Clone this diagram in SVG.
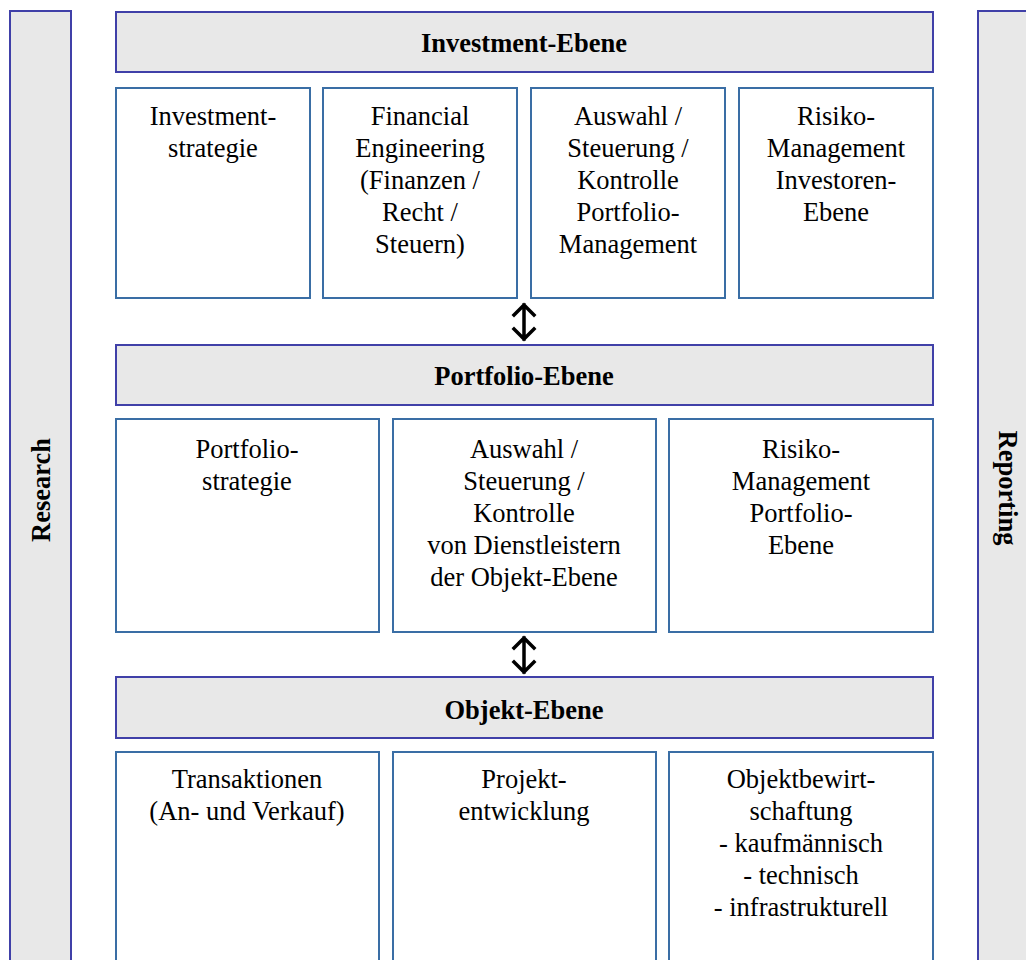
<svg xmlns="http://www.w3.org/2000/svg" width="1026" height="960" viewBox="0 0 1026 960">
<style>
.bar{fill:#e8e8e8;stroke:#4040a8;stroke-width:2}
.box{fill:#ffffff;stroke:#3a6ea5;stroke-width:2}
.t{font-family:"Liberation Serif","Times New Roman",serif;font-size:26.5px;fill:#000;text-anchor:middle}
.b{font-weight:bold}
.arr{fill:none;stroke:#000;stroke-width:3.5;stroke-linecap:square;stroke-linejoin:miter}
</style>
<rect width="1026" height="960" fill="#fff"/>
<g id="research"><rect class="bar" x="10" y="11" width="61" height="960"/><text class="t b" transform="translate(50,490) rotate(-90)">Research</text></g>
<g id="reporting"><rect class="bar" x="978" y="11" width="60" height="960"/><text class="t b" transform="translate(999,488) rotate(90)">Reporting</text></g>
<g id="investment-ebene"><rect class="bar" x="116" y="12" width="817" height="60"/><text class="t b" x="524" y="52">Investment-Ebene</text></g>
<g id="investmentstrategie"><rect class="box" x="116" y="88" width="194" height="210"/><text class="t" x="213" y="125">Investment-<tspan x="213" dy="32">strategie</tspan></text></g>
<g id="financial-engineering"><rect class="box" x="323" y="88" width="194" height="210"/><text class="t" x="420" y="125">Financial<tspan x="420" dy="32">Engineering</tspan><tspan x="420" dy="32">(Finanzen /</tspan><tspan x="420" dy="32">Recht /</tspan><tspan x="420" dy="32">Steuern)</tspan></text></g>
<g id="auswahl-portfolio"><rect class="box" x="531" y="88" width="194" height="210"/><text class="t" x="628" y="125">Auswahl /<tspan x="628" dy="32">Steuerung /</tspan><tspan x="628" dy="32">Kontrolle</tspan><tspan x="628" dy="32">Portfolio-</tspan><tspan x="628" dy="32">Management</tspan></text></g>
<g id="risiko-investoren"><rect class="box" x="739" y="88" width="194" height="210"/><text class="t" x="836" y="125">Risiko-<tspan x="836" dy="32">Management</tspan><tspan x="836" dy="32">Investoren-</tspan><tspan x="836" dy="32">Ebene</tspan></text></g>
<g id="portfolio-ebene"><rect class="bar" x="116" y="345" width="817" height="60"/><text class="t b" x="524" y="385">Portfolio-Ebene</text></g>
<g id="portfoliostrategie"><rect class="box" x="116" y="419" width="263" height="213"/><text class="t" x="247" y="458">Portfolio-<tspan x="247" dy="32">strategie</tspan></text></g>
<g id="auswahl-dienstleister"><rect class="box" x="393" y="419" width="263" height="213"/><text class="t" x="524" y="458">Auswahl /<tspan x="524" dy="32">Steuerung /</tspan><tspan x="524" dy="32">Kontrolle</tspan><tspan x="524" dy="32">von Dienstleistern</tspan><tspan x="524" dy="32">der Objekt-Ebene</tspan></text></g>
<g id="risiko-portfolio"><rect class="box" x="669" y="419" width="264" height="213"/><text class="t" x="801" y="458">Risiko-<tspan x="801" dy="32">Management</tspan><tspan x="801" dy="32">Portfolio-</tspan><tspan x="801" dy="32">Ebene</tspan></text></g>
<g id="objekt-ebene"><rect class="bar" x="116" y="677" width="817" height="61"/><text class="t b" x="524" y="719">Objekt-Ebene</text></g>
<g id="transaktionen"><rect class="box" x="116" y="752" width="263" height="230"/><text class="t" x="247" y="788">Transaktionen<tspan x="247" dy="32">(An- und Verkauf)</tspan></text></g>
<g id="projektentwicklung"><rect class="box" x="393" y="752" width="263" height="230"/><text class="t" x="524" y="788">Projekt-<tspan x="524" dy="32">entwicklung</tspan></text></g>
<g id="objektbewirtschaftung"><rect class="box" x="669" y="752" width="264" height="230"/><text class="t" x="801" y="788">Objektbewirt-<tspan x="801" dy="32">schaftung</tspan><tspan x="801" dy="32">- kaufmännisch</tspan><tspan x="801" dy="32">- technisch</tspan><tspan x="801" dy="32">- infrastrukturell</tspan></text></g>
<g id="connectors">
<path class="arr" d="M524 305V339M514 315L524 305L534 315M514 329L524 339L534 329"/>
<path class="arr" d="M524 638V672M514 648L524 638L534 648M514 662L524 672L534 662"/>
</g>
</svg>
